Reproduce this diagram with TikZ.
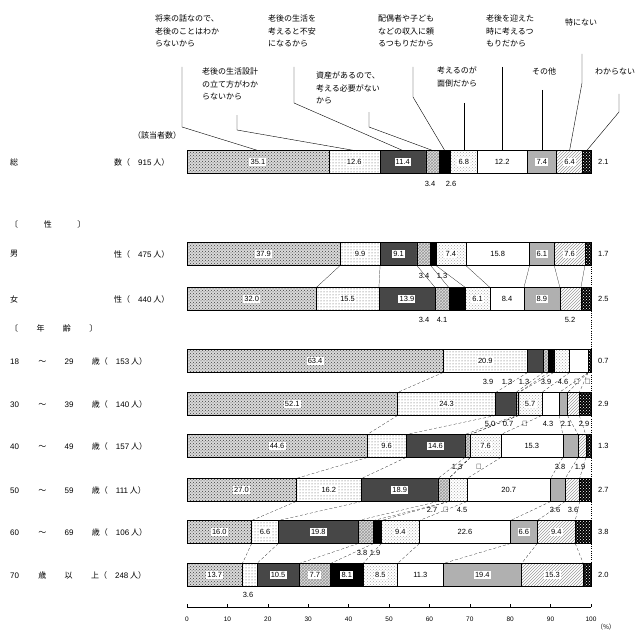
\documentclass[tikz,border=0pt]{standalone}
\usepackage{fontspec}
\setmainfont{Noto Sans CJK JP}
\newfontfamily\numfont{Liberation Sans}
\usepackage{tikz}
\usetikzlibrary{patterns, positioning}
\tikzset{
    seg1/.style={draw, preaction={fill=gray!30}, pattern=crosshatch dots, pattern color=black!75},
    seg2/.style={draw, pattern=dots, pattern color=black!70},
    seg3/.style={draw, fill=black!72},
    seg4/.style={draw, preaction={fill=gray!25}, pattern=crosshatch, pattern color=gray!80},
    seg5/.style={draw, fill=black},
    seg6/.style={draw, pattern=crosshatch dots, pattern color=black!35},
    seg7/.style={draw, fill=white},
    seg8/.style={draw, fill=gray!62},
    seg9/.style={draw, pattern=north east lines, pattern color=gray!80},
    seg10/.style={draw, preaction={fill=black}, pattern=crosshatch dots, pattern color=white},
    vallabel/.style={fill=white, inner sep=1.2pt, font=\numfont\fontsize{7.5}{8}\selectfont},
    smallval/.style={inner sep=0pt, font=\numfont\fontsize{7.5}{8}\selectfont},
    rowlabel/.style={anchor=west, inner sep=0pt, font=\fontsize{8}{9}\selectfont},
    catlabel/.style={anchor=north west, align=left, inner sep=0pt, font=\fontsize{8}{12.5}\selectfont},
    leader/.style={thin},
    linkline/.style={very thin},
    agelink/.style={very thin, densely dashed}
}
% one stacked bar: name, y, values, value at the right end
\newcommand{\surveybar}[4]{%
    \foreach \v [count=\i, remember=\nxt as \prev (initially 0)] in {#3} {
        \pgfmathsetmacro\nxt{\prev+\v}
        \pgfmathsetmacro\segx{187+4.04*\prev}
        \pgfmathsetmacro\segw{4.04*\v}
        \node[seg\i, anchor=west, inner sep=0pt, outer sep=0pt,
              minimum width=\segw pt, minimum height=23pt] (#1-\i) at (\segx,#2) {};
        \pgfmathparse{\v>=5.5 ? 1 : 0}
        \ifnum\pgfmathresult=1 \node[vallabel] at (#1-\i) {\v}; \fi
    }
    \node[smallval, anchor=west] (#1-end) at (598,#2) {#4};
}

\begin{document}
\begin{tikzpicture}[x=1pt, y=-1pt]
    \useasboundingbox (0,0) rectangle (635,634);

    % Bars
    \surveybar{total}{162}{35.1,12.6,11.4,3.4,2.6,6.8,12.2,7.4,6.4,2.1}{2.1}
    \surveybar{male}{254}{37.9,9.9,9.1,3.4,1.3,7.4,15.8,6.1,7.6,1.5}{1.7}
    \surveybar{female}{299}{32.0,15.5,13.9,3.4,4.1,6.1,8.4,8.9,5.2,2.5}{2.5}
    \surveybar{a18}{361}{63.4,20.9,3.9,1.3,1.3,3.9,4.6,0,0,0.7}{0.7}
    \surveybar{a30}{404}{52.1,24.3,5.0,0.7,0,5.7,4.3,2.1,2.9,2.9}{2.9}
    \surveybar{a40}{446}{44.6,9.6,14.6,1.3,0,7.6,15.3,3.8,1.9,1.3}{1.3}
    \surveybar{a50}{490}{27.0,16.2,18.9,2.7,0,4.5,20.7,3.6,3.6,2.8}{2.7}
    \surveybar{a60}{532}{16.0,6.6,19.8,3.8,1.9,9.4,22.6,6.6,9.4,3.9}{3.8}
    \surveybar{a70}{575}{13.7,3.6,10.5,7.7,8.1,8.5,11.3,19.4,15.3,1.9}{2.0}

    % Links between bars
    \foreach \i in {1,...,9}
        \draw[linkline] (male-\i.south east) -- (female-\i.north east);
    \foreach \a/\b in {a18/a30, a30/a40, a40/a50, a50/a60, a60/a70}
        \foreach \i in {1,...,9}
            \draw[agelink] (\a-\i.south east) -- (\b-\i.north east);
    \draw[very thin, dotted] (male-10.north east) -- (a70-10.south east);

    % Row labels
    \node[rowlabel] (h-count) at (133,135) {（該当者数）};
    \node[rowlabel] (l-total) at (10,162) {総};
    \node[rowlabel] (r-total) at (114,162) {数（\quad {\numfont 915} 人）};
    \node[rowlabel] (h-sex) at (10,224) {〔\hspace{3.2em}性\hspace{3.2em}〕};
    \node[rowlabel] (l-male) at (10,254) {男};
    \node[rowlabel] (r-male) at (114,254) {性（\quad {\numfont 475} 人）};
    \node[rowlabel] (l-female) at (10,299) {女};
    \node[rowlabel] (r-female) at (114,299) {性（\quad {\numfont 440} 人）};
    \node[rowlabel] (h-age) at (10,328) {〔\hspace{2.3em}年\hspace{2.3em}齢\hspace{2.3em}〕};
    \foreach \nm/\y/\lo/\hi/\n in {a18/361/18/29/153, a30/404/30/39/140, a40/446/40/49/157,
                                   a50/490/50/59/111, a60/532/60/69/106}{
        \node[rowlabel] (l-\nm) at (10,\y) {{\numfont\lo}\hspace{2.4em}～\hspace{2.3em}{\numfont\hi}\hspace{2.3em}歳（\quad{\numfont\n} 人）};
    }
    \node[rowlabel] (l-a70) at (10,575) {{\numfont 70}\hspace{2.4em}歳\hspace{2.3em}以\hspace{2.3em}上（\quad{\numfont 248} 人）};

    % Category labels
    \node[catlabel] (c1) at (155,15) {将来の話なので、\\老後のことはわか\\らないから};
    \node[catlabel] (c2) at (202,68) {老後の生活設計\\の立て方がわか\\らないから};
    \node[catlabel] (c3) at (268,15) {老後の生活を\\考えると不安\\になるから};
    \node[catlabel] (c4) at (316,72) {資産があるので、\\考える必要がない\\から};
    \node[catlabel] (c5) at (378,15) {配偶者や子ども\\などの収入に頼\\るつもりだから};
    \node[catlabel] (c6) at (437,67) {考えるのが\\面倒だから};
    \node[catlabel] (c7) at (486,15) {老後を迎えた\\時に考えるつ\\もりだから};
    \node[catlabel] (c8) at (532,68) {その他};
    \node[catlabel] (c9) at (565,19) {特にない};
    \node[catlabel] (c10) at (595,68) {わからない};

    % Leaders
    \draw[leader] (182,67) -- (182,127) -- (total-1.north);
    \draw[leader] (237,115) -- (237,130) -- (total-2.north);
    \draw[leader] (294,67) -- (294,103) -- (total-3.north);
    \draw[leader] (369,112) -- (369,127) -- (total-4.north);
    \draw[leader] (413,67) -- (413,97) -- (total-5.north);
    \draw[leader] (total-6.north |- 0,103) -- (total-6.north);
    \draw[leader] (total-7.north |- 0,67) -- (total-7.north);
    \draw[leader] (total-8.north |- 0,90) -- (total-8.north);
    \draw[leader] (582,54) -- (582,83) -- (total-9.north);
    \draw[leader] (619,94) -- (619,112) -- (total-10.north);

    % Small values below bars
    \foreach \x/\y/\t in {430/184/3.4, 451/184/2.6,
        424/276/3.4, 442/276/1.3,
        424/320/3.4, 442/320/4.1, 570/320/5.2,
        488/382/3.9, 507/382/1.3, 524/382/1.3, 546/382/3.9, 563/382/4.6, 577/382/－, 588/382/－,
        490/424/5.0, 508/424/0.7, 525/424/－, 548/424/4.3, 566/424/2.1, 584/424/2.9,
        457/467/1.3, 479/467/－, 560/467/3.8, 580/467/1.9,
        432/510/2.7, 446/510/・, 462/510/4.5, 555/510/3.6, 573/510/3.6,
        362/553/3.8, 375/553/1.9,
        248/595/3.6}
        \node[smallval] at (\x,\y) {\t};

    % Axis
    \draw (187,607) -- (591,607);
    \foreach \t in {0,10,...,100} {
        \draw (187+4.04*\t,607) -- ++(0,-3);
        \node[smallval, font=\numfont\fontsize{6.5}{7}\selectfont] at (187+4.04*\t,619) {\t};
    }
    \node[smallval, font=\fontsize{6.5}{7}\selectfont] (pct) at (606,627) {（\%）};
\end{tikzpicture}
\end{document}
